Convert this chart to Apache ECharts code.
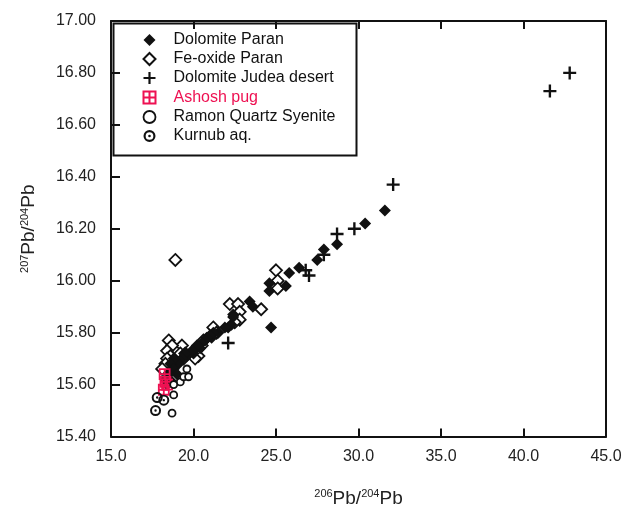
<!DOCTYPE html>
<html>
<head>
<meta charset="utf-8">
<script src="https://cdn.jsdelivr.net/npm/echarts@6/dist/echarts.min.js"></script>
<style>html,body{margin:0;padding:0;background:#fff}#c{width:639px;height:513px}</style>
</head>
<body>
<div id="c"></div>
<script>
// ---- data (206Pb/204Pb, 207Pb/204Pb) ----
var seriesNames = ['Dolomite Paran', 'Fe-oxide Paran', 'Dolomite Judea desert', 'Ashosh pug', 'Ramon Quartz Syenite', 'Kurnub aq.'];
var dolomiteParan = [[31.6,16.27],[30.4,16.22],[28.7,16.14],[27.9,16.12],[27.5,16.08],[26.4,16.05],[25.8,16.03],[24.6,15.99],[25.6,15.98],[24.6,15.96],[24.7,15.82],[23.4,15.92],[23.6,15.90],[22.4,15.87],[22.1,15.82],[22.4,15.86],[22.3,15.83],[21.9,15.82],[21.5,15.80],[21.2,15.80],[21.1,15.78],[21.0,15.79],[20.8,15.78],[20.7,15.77],[20.5,15.76],[20.4,15.74],[20.2,15.75],[20.0,15.72],[19.9,15.73],[19.6,15.71],[19.5,15.72],[19.3,15.70],[19.2,15.69],[19.1,15.68],[18.8,15.70],[18.6,15.68],[18.8,15.66],[19.0,15.64],[18.5,15.64],[18.7,15.61],[18.4,15.60],[18.3,15.62]];
var feOxideParan = [[18.9,16.08],[25.0,16.04],[25.1,16.00],[25.1,15.97],[22.2,15.91],[22.7,15.91],[22.8,15.88],[22.8,15.85],[22.5,15.84],[24.1,15.89],[21.2,15.82],[21.4,15.80],[20.6,15.77],[20.5,15.75],[19.3,15.75],[19.2,15.72],[19.5,15.72],[20.0,15.72],[20.3,15.71],[20.1,15.70],[18.5,15.77],[18.7,15.75],[18.4,15.73],[18.6,15.71],[18.4,15.70],[18.3,15.68],[19.4,15.70],[18.1,15.66]];
var dolomiteJudea = [[42.8,16.80],[41.6,16.73],[32.1,16.37],[29.75,16.20],[28.7,16.18],[27.9,16.10],[26.8,16.04],[27.0,16.02],[22.1,15.76]];
var ashoshPug = [[18.25,15.64],[18.3,15.61],[18.2,15.58],[18.4,15.60]];
var ramonSyenite = [[18.7,15.49],[18.8,15.56],[19.2,15.61],[19.4,15.63],[19.7,15.63],[19.6,15.66],[18.8,15.60]];
var kurnubAq = [[17.8,15.55],[17.7,15.50],[18.2,15.54]];
var xTicks = {min: 15, max: 45, interval: 5};
var yTicks = {min: 15.4, max: 17.0, interval: 0.2};

var BLACK = '#111';
var RED = '#ee1152';
var FONT = 'Liberation Sans, Arial, sans-serif';
var plusPath = 'path://M4.5,0h2v4.5h4.5v2h-4.5v4.5h-2v-4.5h-4.5v-2h4.5z';
var ringPath = 'path://M0,5a5,5 0 1,0 10,0a5,5 0 1,0 -10,0z M1.8,5a3.2,3.2 0 1,1 6.4,0a3.2,3.2 0 1,1 -6.4,0z M3.9,5a1.1,1.1 0 1,0 2.2,0a1.1,1.1 0 1,0 -2.2,0z';
var boxPath = 'path://M0,0H10V10H0Z M5,0V10 M0,5H10';

var chart = echarts.init(document.getElementById('c'), null, {renderer: 'canvas'});
var axisLine = {show: true, lineStyle: {color: BLACK, width: 2}};
var labelFont = {fontFamily: FONT, fontSize: 16, color: '#222'};
var nameRich = {
  sup: {fontFamily: FONT, fontSize: 11, color: '#222', padding: [0, 0, 9, 0]},
  m: {fontFamily: FONT, fontSize: 19, color: '#222'}
};
var option = {
  animation: false,
  backgroundColor: '#fff',
  grid: {left: 111, right: 33, top: 21, bottom: 70},
  xAxis: [{
    type: 'value', min: xTicks.min, max: xTicks.max, interval: xTicks.interval,
    axisLine: axisLine, splitLine: {show: false},
    axisTick: {show: true, inside: true, length: 8, lineStyle: {color: BLACK, width: 2}},
    axisLabel: Object.assign({margin: 12, formatter: function (v) { return v.toFixed(1); }}, labelFont),
    name: '{sup|206}{m|Pb/}{sup|204}{m|Pb}', nameLocation: 'middle', nameGap: 52,
    nameTextStyle: {rich: nameRich}
  }, {
    type: 'value', position: 'top', min: xTicks.min, max: xTicks.max, interval: xTicks.interval,
    axisLine: axisLine, splitLine: {show: false}, axisLabel: {show: false},
    axisTick: {show: true, inside: true, length: 8, lineStyle: {color: BLACK, width: 2}}
  }],
  yAxis: [{
    type: 'value', min: yTicks.min, max: yTicks.max, interval: yTicks.interval,
    axisLine: axisLine, splitLine: {show: false},
    axisTick: {show: true, inside: true, length: 9, lineStyle: {color: BLACK, width: 2}},
    axisLabel: Object.assign({margin: 15, formatter: function (v) { return v.toFixed(2); }}, labelFont),
    name: '{sup|207}{m|Pb/}{sup|204}{m|Pb}', nameLocation: 'middle', nameGap: 72, nameRotate: 90,
    nameTextStyle: {rich: nameRich}
  }, {
    type: 'value', position: 'right', min: yTicks.min, max: yTicks.max, interval: yTicks.interval,
    axisLine: axisLine, splitLine: {show: false}, axisLabel: {show: false}, axisTick: {show: false}
  }],
  legend: {
    orient: 'vertical', left: 141, top: 32, padding: 0,
    itemWidth: 12, itemHeight: 12, itemGap: 3,
    textStyle: {fontFamily: FONT, fontSize: 16, lineHeight: 16, color: '#111', padding: [0, 0, 0, 13]},
    data: [
      {name: seriesNames[0]}, {name: seriesNames[1]}, {name: seriesNames[2]},
      {name: seriesNames[3], textStyle: {color: RED}},
      {name: seriesNames[4], itemStyle: {borderWidth: 1.8}}, {name: seriesNames[5]}
    ]
  },
  graphic: [{
    type: 'rect', left: 111, top: 21, z: 100,
    shape: {width: 243, height: 132},
    style: {fill: 'none', stroke: BLACK, lineWidth: 2}
  }],
  series: [
    {name: seriesNames[1], type: 'scatter', data: feOxideParan, symbol: 'diamond', symbolSize: 12,
      itemStyle: {color: '#fff', borderColor: BLACK, borderWidth: 1.8, opacity: 1}},
    {name: seriesNames[0], type: 'scatter', data: dolomiteParan, symbol: 'diamond', symbolSize: 12,
      itemStyle: {color: BLACK, borderColor: BLACK, borderWidth: 0, opacity: 1}},
    {name: seriesNames[2], type: 'scatter', data: dolomiteJudea, symbol: plusPath, symbolSize: 13,
      itemStyle: {color: BLACK, borderWidth: 0, opacity: 1}},
    {name: seriesNames[3], type: 'scatter', data: ashoshPug, symbol: boxPath, symbolSize: 10,
      itemStyle: {color: 'none', borderColor: RED, borderWidth: 1.8, opacity: 1}},
    {name: seriesNames[4], type: 'scatter', data: ramonSyenite, symbol: 'circle', symbolSize: 7,
      itemStyle: {color: '#fff', borderColor: BLACK, borderWidth: 1.8, opacity: 1}},
    {name: seriesNames[5], type: 'scatter', data: kurnubAq, symbol: ringPath, symbolSize: 11,
      itemStyle: {color: BLACK, borderWidth: 0, opacity: 1}}
  ]
};
chart.setOption(option);
</script>
</body>
</html>
